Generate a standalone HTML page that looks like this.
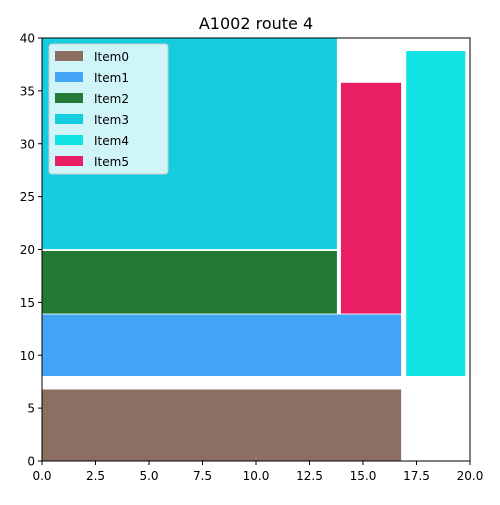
<!DOCTYPE html>
<html><head><meta charset="utf-8"><style>
body{margin:0;background:#fff}
svg text{font-family:"DejaVu Sans","Liberation Sans",sans-serif;fill:#000}
</style></head><body>
<svg id="chart" width="500" height="500" xmlns="http://www.w3.org/2000/svg">
<rect width="500" height="500" fill="#fff"/>
<text x="256" y="29" font-size="16" text-anchor="middle">A1002 route 4</text>
<g id="bars"></g>
<rect x="42" y="38" width="428" height="423" fill="none" stroke="#000" stroke-width="1"/>
<g id="axes"></g>
<g id="legend"></g>
</svg>
<script>
const names=["Item0","Item1","Item2","Item3","Item4","Item5"];
const colors=["#8d6e63","#42a5f5","#237a36","#16cde0","#12e2e3","#e91e63"];
const x0s=[0,0,0,0,17.0,13.95];
const x1s=[16.8,16.8,13.8,13.8,19.8,16.8];
const y0s=[0,8,13.9,20,8,13.9];
const y1s=[6.8,13.9,19.9,40,38.8,35.8];
const xTicks=[0,2.5,5,7.5,10,12.5,15,17.5,20];
const yTicks=[0,5,10,15,20,25,30,35,40];
const NS="http://www.w3.org/2000/svg";
const X=v=>42+v/20*428, Y=v=>461-v/40*423;
function mk(t,a,p){const e=document.createElementNS(NS,t);for(const k in a)e.setAttribute(k,a[k]);p.appendChild(e);return e;}
const bars=document.getElementById('bars');
names.forEach((n,i)=>{
 const r=mk('rect',{x:X(x0s[i]),y:Y(y1s[i]),width:X(x1s[i])-X(x0s[i]),height:Y(y0s[i])-Y(y1s[i]),fill:colors[i],stroke:'#fff','stroke-width':0.8},bars);
 
 
});
const ax=document.getElementById('axes');
xTicks.forEach(t=>{
 const l=mk('line',{x1:X(t),x2:X(t),y1:461,y2:465,stroke:'#000'},ax);
 
 const s=mk('text',{x:X(t),y:480,'font-size':12,'text-anchor':'middle'},ax);s.textContent=t.toFixed(1);
 
});
yTicks.forEach(t=>{
 const l=mk('line',{x1:38,x2:42,y1:Y(t),y2:Y(t),stroke:'#000'},ax);
 
 const s=mk('text',{x:35,y:Y(t)+4.5,'font-size':12,'text-anchor':'end'},ax);s.textContent=t;
 
});
const lg=document.getElementById('legend');
const box=mk('rect',{x:49,y:44,width:119,height:130,rx:3,fill:'#fff','fill-opacity':0.8,stroke:'#ccc'},lg);

names.forEach((n,i)=>{
 const y=49+i*21;
 const sw=mk('rect',{x:55,y:y+2,width:28,height:10,fill:colors[i]},lg);
 
 const t=mk('text',{x:94,y:y+12,'font-size':12},lg);t.textContent=n;
 
});
</script>
</body></html>
